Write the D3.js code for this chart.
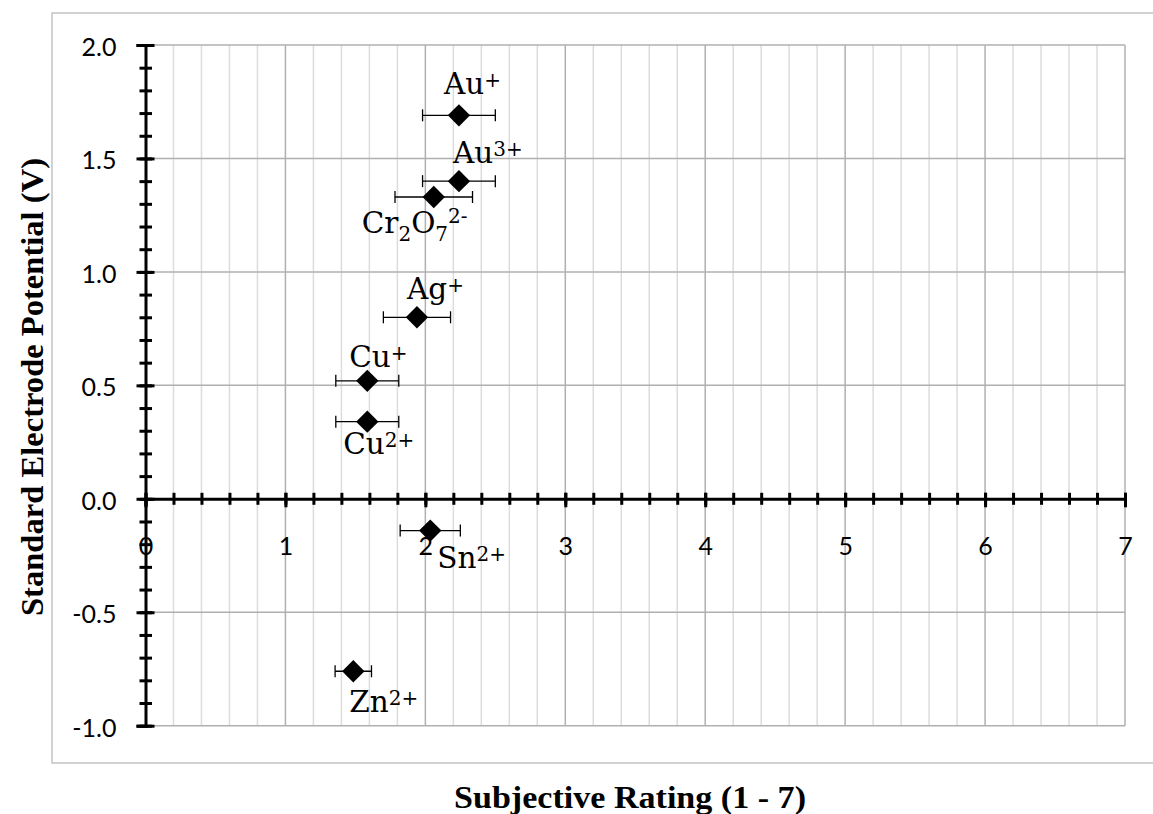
<!DOCTYPE html>
<html>
<head>
<meta charset="utf-8">
<script src="https://cdn.jsdelivr.net/npm/d3@7"></script>
<style>
  html, body { margin: 0; padding: 0; background: #fff; }
  svg { display: block; }
</style>
</head>
<body>
<div id="chart"></div>
<script>
// data
const ions      = ["Au^{+}", "Au^{3+}", "Cr_{2}O_{7}^{2-}", "Ag^{+}", "Cu^{+}", "Cu^{2+}", "Sn^{2+}", "Zn^{2+}"];
const rating    = [2.24, 2.24, 2.06, 1.94, 1.585, 1.585, 2.035, 1.485];
const ratingErr = [0.26, 0.26, 0.277, 0.24, 0.225, 0.225, 0.215, 0.13];
const potential = [1.69, 1.40, 1.33, 0.80, 0.52, 0.34, -0.14, -0.76];

const xTicks = [0, 1, 2, 3, 4, 5, 6, 7];
const yTicks = [-1.0, -0.5, 0.0, 0.5, 1.0, 1.5, 2.0];

const xTitle = "Subjective Rating (1 - 7)";
const yTitle = "Standard Electrode Potential (V)";

const W = 1153, H = 814;

const x = d3.scaleLinear().domain([0, 7]).range([145.5, 1125]);
const y = d3.scaleLinear().domain([-1, 2]).range([725.7, 45]);

// where each label sits relative to its marker (text start, baseline)
const labelOffset = [[-15, -21], [-6, -18], [-72, 36], [-10, -18], [-18, -14], [-24, 32], [7, 37], [-4, 41]];

const svg = d3.select("#chart").append("svg")
  .attr("width", W).attr("height", H);

// outer chart border
svg.append("rect")
  .attr("x", 52).attr("y", 13)
  .attr("width", 1120).attr("height", 750)
  .attr("fill", "none").attr("stroke", "#c4c4c4").attr("stroke-width", 1.5);

// gridlines
const grid = svg.append("g");
const minorX = d3.range(0, 7.001, 0.2).filter(v => Math.abs(v - Math.round(v)) > 1e-6);
grid.selectAll(".gx-minor").data(minorX).join("line")
  .attr("x1", d => x(d)).attr("x2", d => x(d))
  .attr("y1", y(2)).attr("y2", y(-1))
  .attr("stroke", "#dcdcdc").attr("stroke-width", 1.5);
grid.selectAll(".gx-major").data(xTicks.slice(1)).join("line")
  .attr("x1", d => x(d)).attr("x2", d => x(d))
  .attr("y1", y(2)).attr("y2", y(-1))
  .attr("stroke", "#b0b0b0").attr("stroke-width", 1.5);
grid.selectAll(".gy").data(yTicks).join("line")
  .attr("x1", x(0)).attr("x2", x(7))
  .attr("y1", d => y(d)).attr("y2", d => y(d))
  .attr("stroke", "#b0b0b0").attr("stroke-width", 1.5);

const fmt = d => d.toFixed(1);   // plain hyphen for negatives, like the original

// y axis: minor ticks crossing the line
const yMinor = svg.append("g")
  .attr("transform", `translate(${x(0)},0)`)
  .call(d3.axisLeft(y).tickValues(d3.range(-1, 2.001, 0.1)).tickSize(6).tickFormat(""));
yMinor.select(".domain").remove();
yMinor.selectAll(".tick line").attr("x1", 6.5).attr("x2", -6).attr("stroke", "#000").attr("stroke-width", 3);

const yAxis = svg.append("g")
  .attr("transform", `translate(${x(0)},0)`)
  .call(d3.axisLeft(y).tickValues(yTicks).tickSize(9).tickPadding(20).tickFormat(fmt));
yAxis.select(".domain").attr("stroke", "#000").attr("stroke-width", 3);
yAxis.selectAll(".tick line").attr("x1", 9).attr("x2", -9).attr("stroke", "#000").attr("stroke-width", 3);
yAxis.selectAll(".tick text")
  .attr("x", -29).attr("dy", "0.42em")
  .style("font-family", "Lato, 'Noto Sans', sans-serif").style("font-size", "25px").attr("fill", "#000");

// x axis sits at y = 0
const xMinor = svg.append("g")
  .attr("transform", `translate(0,${y(0)})`)
  .call(d3.axisBottom(x).tickValues(d3.range(0, 7.001, 0.2)).tickSize(6).tickFormat(""));
xMinor.select(".domain").remove();
xMinor.selectAll(".tick line").attr("y1", -6).attr("y2", 6).attr("stroke", "#000").attr("stroke-width", 3);

const xAxis = svg.append("g")
  .attr("transform", `translate(0,${y(0)})`)
  .call(d3.axisBottom(x).tickValues(xTicks).tickSize(8).tickFormat(d3.format("d")));
xAxis.select(".domain").attr("stroke", "#000").attr("stroke-width", 3);
xAxis.selectAll(".tick line").attr("y1", -6).attr("y2", 8.5).attr("stroke", "#000").attr("stroke-width", 3);
xAxis.selectAll(".tick text")
  .attr("y", 56).attr("dy", 0)
  .style("font-family", "Lato, 'Noto Sans', sans-serif").style("font-size", "25px").attr("fill", "#000");

// error bars
const pts = ions.map((name, i) => ({ name, r: rating[i], e: ratingErr[i], p: potential[i], off: labelOffset[i] }));
const eb = svg.append("g").attr("stroke", "#000").attr("stroke-width", 1.3);
pts.forEach(d => {
  const yy = y(d.p), x0 = x(d.r - d.e), x1 = x(d.r + d.e);
  eb.append("line").attr("x1", x0).attr("x2", x1).attr("y1", yy).attr("y2", yy);
  eb.append("line").attr("x1", x0).attr("x2", x0).attr("y1", yy - 6).attr("y2", yy + 6);
  eb.append("line").attr("x1", x1).attr("x2", x1).attr("y1", yy - 6).attr("y2", yy + 6);
});

// diamond markers
svg.append("g").selectAll("path").data(pts).join("path")
  .attr("d", d3.symbol(d3.symbolSquare, 250))
  .attr("transform", d => `translate(${x(d.r)},${y(d.p)}) rotate(45)`)
  .attr("fill", "#000");

// labels with sub/superscripts
function parts(s) {
  const out = [];
  const re = /([_^])\{([^}]*)\}|([^_^]+)/g;
  let m;
  while ((m = re.exec(s))) {
    if (m[3]) out.push({ t: m[3], k: "n" });
    else out.push({ t: m[2], k: m[1] === "^" ? "sup" : "sub" });
  }
  return out;
}
const shift = { n: 0, sup: -7, sub: 8 };
const labels = svg.append("g")
  .style("font-family", "'DejaVu Serif', 'Liberation Serif', serif")
  .style("font-size", "29.5px").attr("fill", "#000");
pts.forEach(d => {
  const t = labels.append("text")
    .attr("x", x(d.r) + d.off[0]).attr("y", y(d.p) + d.off[1]);
  let cur = 0;
  parts(d.name).forEach(p => {
    const s = (d.name.startsWith("Cr") && p.k === "sup") ? -10 : shift[p.k];
    t.append("tspan")
      .attr("dy", s - cur)
      .style("font-size", p.k === "n" ? "29.5px" : "20px")
      .text(p.t);
    cur = s;
  });
});

// axis titles
svg.append("text")
  .attr("x", 630).attr("y", 808)
  .attr("text-anchor", "middle")
  .attr("textLength", 352).attr("lengthAdjust", "spacingAndGlyphs")
  .style("font-family", "'Liberation Serif', 'Times New Roman', serif")
  .style("font-weight", "bold").style("font-size", "31px")
  .text(xTitle);

svg.append("text")
  .attr("transform", "translate(43,387) rotate(-90)")
  .attr("text-anchor", "middle")
  .attr("textLength", 458).attr("lengthAdjust", "spacingAndGlyphs")
  .style("font-family", "'Liberation Serif', 'Times New Roman', serif")
  .style("font-weight", "bold").style("font-size", "31px")
  .text(yTitle);
</script>
</body>
</html>
